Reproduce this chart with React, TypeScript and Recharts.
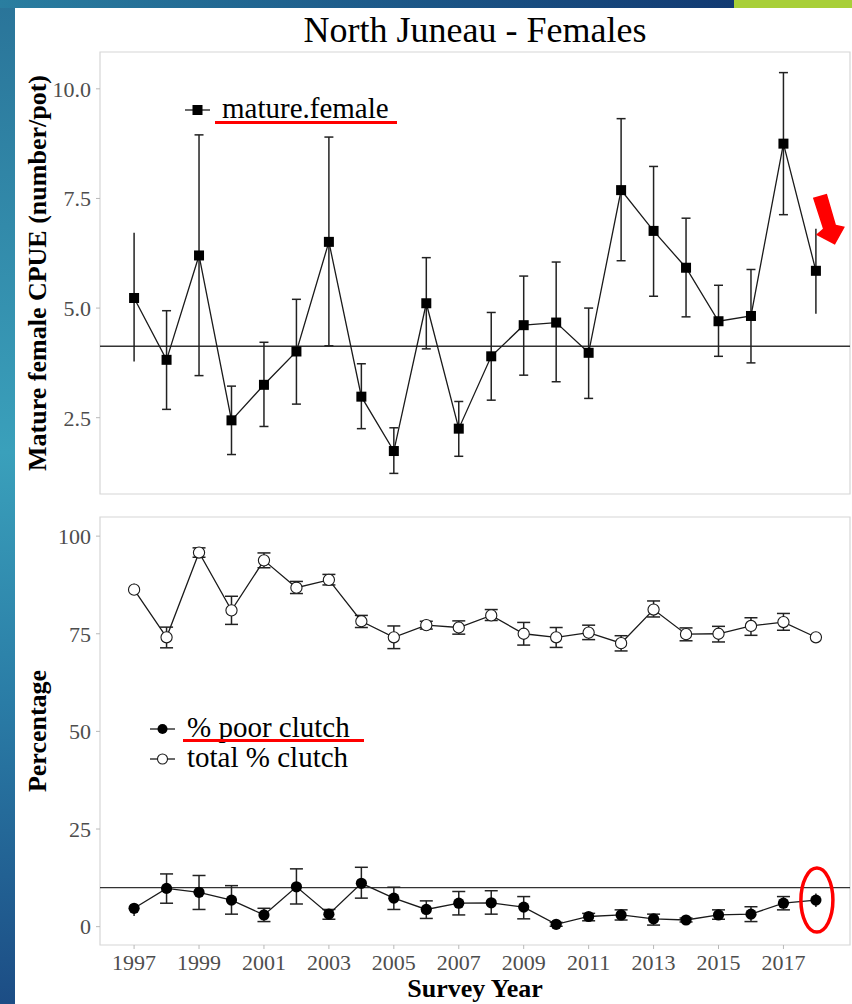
import React from "react";
import {
  ComposedChart,
  Line,
  Scatter,
  ErrorBar,
  XAxis,
  YAxis,
  ReferenceLine,
  ReferenceArea,
  ReferenceDot,
} from "recharts";

const SERIF = "'Liberation Serif', 'Times New Roman', serif";

const years = [
  1997, 1998, 1999, 2000, 2001, 2002, 2003, 2004, 2005, 2006, 2007, 2008,
  2009, 2010, 2011, 2012, 2013, 2014, 2015, 2016, 2017, 2018,
];
const yearTicks = [1997, 1999, 2001, 2003, 2005, 2007, 2009, 2011, 2013, 2015, 2017];
// years whose error bars are drawn without caps
const noCapYears = [1997, 2018];

// mature female CPUE (number/pot) with lower / upper CI
const cpue = [5.23, 3.82, 6.2, 2.44, 3.25, 4.01, 6.51, 2.98, 1.74, 5.11, 2.25, 3.9, 4.61, 4.67, 3.98, 7.69, 6.76, 5.92, 4.7, 4.82, 8.75, 5.85];
const cpueLow = [3.78, 2.69, 3.46, 1.66, 2.3, 2.81, 4.14, 2.25, 1.23, 4.07, 1.62, 2.9, 3.47, 3.32, 2.94, 6.08, 5.27, 4.8, 3.9, 3.75, 7.13, 4.87];
const cpueHigh = [6.72, 4.94, 8.95, 3.22, 4.22, 5.2, 8.9, 3.73, 2.27, 6.15, 2.87, 4.9, 5.73, 6.05, 5.0, 9.32, 8.23, 7.05, 5.52, 5.88, 10.37, 6.81];
const cpueMean = 4.13;
const cpueTicks = [2.5, 5, 7.5, 10];
const cpueDomain = [0.76, 10.84];

// total % clutch
const totalClutch = [86.3, 74.1, 95.8, 81.0, 93.8, 86.8, 88.8, 78.2, 74.1, 77.2, 76.6, 79.7, 75.0, 74.1, 75.3, 72.6, 81.2, 74.9, 75.0, 77.0, 78.0, 74.1];
const totalLow = [85.0, 71.4, 94.6, 77.4, 91.9, 85.3, 87.5, 76.6, 71.2, 76.2, 74.9, 78.4, 72.1, 71.5, 73.5, 70.6, 79.3, 73.2, 72.9, 74.6, 75.9, 72.8];
const totalHigh = [87.8, 76.7, 97.0, 84.6, 95.7, 88.4, 90.2, 79.7, 77.0, 78.2, 78.3, 81.2, 77.9, 76.6, 77.2, 74.5, 83.4, 76.5, 76.9, 79.1, 80.2, 75.4];

// % poor clutch
const poorClutch = [4.7, 9.8, 8.8, 6.8, 3.0, 10.2, 3.2, 11.1, 7.3, 4.4, 6.0, 6.1, 5.0, 0.6, 2.6, 3.0, 2.0, 1.7, 3.0, 3.2, 6.0, 6.8];
const poorLow = [2.7, 6.0, 4.4, 3.2, 1.3, 5.8, 1.9, 7.3, 4.4, 2.1, 3.0, 3.2, 2.0, 0.1, 1.5, 1.7, 0.4, 1.2, 1.9, 1.3, 4.3, 5.0];
const poorHigh = [6.0, 13.5, 13.1, 10.5, 4.7, 14.8, 4.4, 15.2, 10.1, 6.6, 9.0, 9.2, 7.7, 1.1, 3.4, 4.3, 3.2, 2.2, 4.3, 5.1, 7.7, 8.5];
const poorLimit = 10;
const pctTicks = [0, 25, 50, 75, 100];
const pctDomain = [-4.7, 104.9];

const xDomain = [1995.95, 2019.05];

const cpueRows = years.map((year, i) => ({
  year,
  cpue: cpue[i],
  cpueErr: [cpue[i] - cpueLow[i], cpueHigh[i] - cpue[i]],
}));

const clutchRows = years.map((year, i) => ({
  year,
  total: totalClutch[i],
  totalErr: [totalClutch[i] - totalLow[i], totalHigh[i] - totalClutch[i]],
  poor: poorClutch[i],
  poorErr: [poorClutch[i] - poorLow[i], poorHigh[i] - poorClutch[i]],
}));

const capped = <T extends { year: number }>(rows: T[]) =>
  rows.filter((r) => !noCapYears.includes(r.year));
const uncapped = <T extends { year: number }>(rows: T[]) =>
  rows.filter((r) => noCapYears.includes(r.year));

const tickStyle = { fill: "#4d4d4d", fontSize: 22, fontFamily: SERIF };
const tickLineStyle = { stroke: "#b8b8b8" };

const noShape = () => <g />;

const SquareDot = (props: any) => {
  const { cx, cy, index } = props;
  return <rect key={`sq-${index}`} x={cx - 5} y={cy - 5} width={10} height={10} fill="#000" />;
};
const FilledDot = (props: any) => {
  const { cx, cy, index } = props;
  return <circle key={`fc-${index}`} cx={cx} cy={cy} r={5.6} fill="#000" />;
};
const OpenDot = (props: any) => {
  const { cx, cy, index } = props;
  return (
    <circle key={`oc-${index}`} cx={cx} cy={cy} r={5.6} fill="#fff" stroke="#1a1a1a" strokeWidth={1.1} />
  );
};

const yTitle = (text: string) => (props: any) => {
  const { x, y, height } = props.viewBox;
  const cx = x + 37;
  const cy = y + height / 2;
  return (
    <text
      x={cx}
      y={cy}
      transform={`rotate(-90, ${cx}, ${cy})`}
      textAnchor="middle"
      dominantBaseline="central"
      fontFamily={SERIF}
      fontWeight="bold"
      fontSize={26}
      fill="#000"
    >
      {text}
    </text>
  );
};

const xTitle = (props: any) => {
  const { x, y, width } = props.viewBox;
  return (
    <text
      x={x + width / 2}
      y={y + 43}
      textAnchor="middle"
      dominantBaseline="central"
      fontFamily={SERIF}
      fontWeight="bold"
      fontSize={26}
      fill="#000"
    >
      Survey Year
    </text>
  );
};

// red annotation arrow pointing at the 2018 CPUE point
const ArrowMark = (props: any) => {
  const { cx, cy } = props;
  const pts = [
    [-3, -73],
    [11, -77],
    [20, -46],
    [29, -44],
    [19, -26],
    [0, -36],
    [7, -42],
  ]
    .map(([dx, dy]) => `${cx + dx},${cy + dy}`)
    .join(" ");
  return <polygon points={pts} fill="#ff0000" />;
};

// red ellipse round the 2018 poor clutch point
const EllipseMark = (props: any) => {
  const { cx, cy } = props;
  return <ellipse cx={cx + 1} cy={cy} rx={16} ry={32} fill="none" stroke="#ff0000" strokeWidth={3.5} />;
};

const LegendItem = ({
  kind,
  label,
  top,
  left,
  underline,
}: {
  kind: "square" | "filled" | "open";
  label: string;
  top: number;
  left: number;
  underline?: { left: number; width: number; top: number };
}) => (
  <>
    <svg style={{ position: "absolute", left, top: top - 12 }} width={26} height={24}>
      <line x1={0} y1={12} x2={25} y2={12} stroke="#1a1a1a" strokeWidth={1.3} />
      {kind === "square" && <rect x={7.5} y={7} width={10} height={10} fill="#000" />}
      {kind === "filled" && <circle cx={12.5} cy={12} r={5} fill="#000" />}
      {kind === "open" && <circle cx={12.5} cy={12} r={5} fill="#fff" stroke="#1a1a1a" strokeWidth={1.1} />}
    </svg>
    <div
      style={{
        position: "absolute",
        left: left + 37,
        top: top - 18,
        fontFamily: SERIF,
        fontSize: 29,
        lineHeight: "32px",
        color: "#000",
        whiteSpace: "nowrap",
      }}
    >
      {label}
    </div>
    {underline && (
      <div
        style={{
          position: "absolute",
          left: underline.left,
          top: underline.top,
          width: underline.width,
          height: 3,
          background: "#ff0000",
        }}
      />
    )}
  </>
);

export default function App() {
  return (
    <div
      style={{
        position: "absolute",
        left: 0,
        top: 0,
        width: 852,
        height: 1004,
        overflow: "hidden",
        background: "#fff",
      }}
    >
      {/* slide decoration */}
      <div
        style={{
          position: "absolute",
          left: 0,
          top: 0,
          width: 15,
          height: 1004,
          background: "linear-gradient(180deg, #2a7499 0%, #3aa0bb 45%, #2a7ca6 70%, #1c4d85 100%)",
        }}
      />
      <div
        style={{
          position: "absolute",
          left: 0,
          top: 0,
          width: 734,
          height: 8,
          background: "linear-gradient(90deg, #2a7ea0 0%, #1d5b8a 50%, #123a72 100%)",
        }}
      />
      <div style={{ position: "absolute", left: 734, top: 0, width: 118, height: 8, background: "#a8cf38" }} />

      <div
        style={{
          position: "absolute",
          left: 100,
          top: 8,
          width: 750,
          textAlign: "center",
          fontFamily: SERIF,
          fontSize: 36,
          lineHeight: "44px",
          color: "#000",
        }}
      >
        North Juneau - Females
      </div>

      <div style={{ position: "absolute", left: 0, top: 0 }}>
        <ComposedChart
          width={852}
          height={500}
          data={cpueRows}
          margin={{ top: 52, right: 2, bottom: 0, left: 0 }}
        >
          <XAxis
            type="number"
            dataKey="year"
            domain={xDomain}
            ticks={yearTicks}
            allowDataOverflow
            axisLine={false}
            tick={false}
            tickLine={tickLineStyle}
            tickSize={4}
            height={6}
          />
          <YAxis
            type="number"
            domain={cpueDomain}
            ticks={cpueTicks}
            allowDataOverflow
            tickFormatter={(v: number) => v.toFixed(1)}
            width={100}
            axisLine={false}
            tickLine={tickLineStyle}
            tickSize={4}
            tickMargin={5}
            tick={tickStyle}
            label={{ content: yTitle("Mature female CPUE (number/pot)") }}
          />
          <ReferenceArea
            x1={xDomain[0]}
            x2={xDomain[1]}
            y1={cpueDomain[0]}
            y2={cpueDomain[1]}
            fill="none"
            stroke="#d6d6d6"
            strokeWidth={1.2}
          />
          <ReferenceLine y={cpueMean} stroke="#333" strokeWidth={1.4} />
          <Scatter data={capped(cpueRows)} dataKey="cpue" shape={noShape} isAnimationActive={false}>
            <ErrorBar dataKey="cpueErr" direction="y" width={4.5} stroke="#222" strokeWidth={1.5} />
          </Scatter>
          <Scatter data={uncapped(cpueRows)} dataKey="cpue" shape={noShape} isAnimationActive={false}>
            <ErrorBar dataKey="cpueErr" direction="y" width={0} stroke="#222" strokeWidth={1.5} />
          </Scatter>
          <Line
            dataKey="cpue"
            stroke="#1a1a1a"
            strokeWidth={1.3}
            dot={SquareDot}
            activeDot={false}
            isAnimationActive={false}
          />
          <ReferenceDot x={2018} y={cpue[cpue.length - 1]} shape={ArrowMark} />
        </ComposedChart>
      </div>

      <div style={{ position: "absolute", left: 0, top: 500 }}>
        <ComposedChart
          width={852}
          height={504}
          data={clutchRows}
          margin={{ top: 17, right: 2, bottom: 0, left: 0 }}
        >
          <XAxis
            type="number"
            dataKey="year"
            domain={xDomain}
            ticks={yearTicks}
            allowDataOverflow
            axisLine={false}
            tick={tickStyle}
            tickLine={tickLineStyle}
            tickSize={4}
            tickMargin={5}
            height={59}
            label={{ content: xTitle }}
          />
          <YAxis
            type="number"
            domain={pctDomain}
            ticks={pctTicks}
            allowDataOverflow
            width={100}
            axisLine={false}
            tickLine={tickLineStyle}
            tickSize={4}
            tickMargin={5}
            tick={tickStyle}
            label={{ content: yTitle("Percentage") }}
          />
          <ReferenceArea
            x1={xDomain[0]}
            x2={xDomain[1]}
            y1={pctDomain[0]}
            y2={pctDomain[1]}
            fill="none"
            stroke="#d6d6d6"
            strokeWidth={1.2}
          />
          <ReferenceLine y={poorLimit} stroke="#333" strokeWidth={1.4} />
          <Scatter data={capped(clutchRows)} dataKey="total" shape={noShape} isAnimationActive={false}>
            <ErrorBar dataKey="totalErr" direction="y" width={6.5} stroke="#222" strokeWidth={1.5} />
          </Scatter>
          <Scatter data={uncapped(clutchRows)} dataKey="total" shape={noShape} isAnimationActive={false}>
            <ErrorBar dataKey="totalErr" direction="y" width={0} stroke="#222" strokeWidth={1.5} />
          </Scatter>
          <Scatter data={capped(clutchRows)} dataKey="poor" shape={noShape} isAnimationActive={false}>
            <ErrorBar dataKey="poorErr" direction="y" width={6.5} stroke="#222" strokeWidth={1.5} />
          </Scatter>
          <Scatter data={uncapped(clutchRows)} dataKey="poor" shape={noShape} isAnimationActive={false}>
            <ErrorBar dataKey="poorErr" direction="y" width={0} stroke="#222" strokeWidth={1.5} />
          </Scatter>
          <Line
            dataKey="total"
            stroke="#1a1a1a"
            strokeWidth={1.3}
            dot={OpenDot}
            activeDot={false}
            isAnimationActive={false}
          />
          <Line
            dataKey="poor"
            stroke="#1a1a1a"
            strokeWidth={1.3}
            dot={FilledDot}
            activeDot={false}
            isAnimationActive={false}
          />
          <ReferenceDot x={2018} y={poorClutch[poorClutch.length - 1]} shape={EllipseMark} />
        </ComposedChart>
      </div>

      <LegendItem
        kind="square"
        label="mature.female"
        left={185}
        top={110}
        underline={{ left: 215, width: 182, top: 121 }}
      />
      <LegendItem
        kind="filled"
        label="% poor clutch"
        left={150}
        top={729}
        underline={{ left: 183, width: 181, top: 739 }}
      />
      <LegendItem kind="open" label="total % clutch" left={150} top={759} />
    </div>
  );
}
